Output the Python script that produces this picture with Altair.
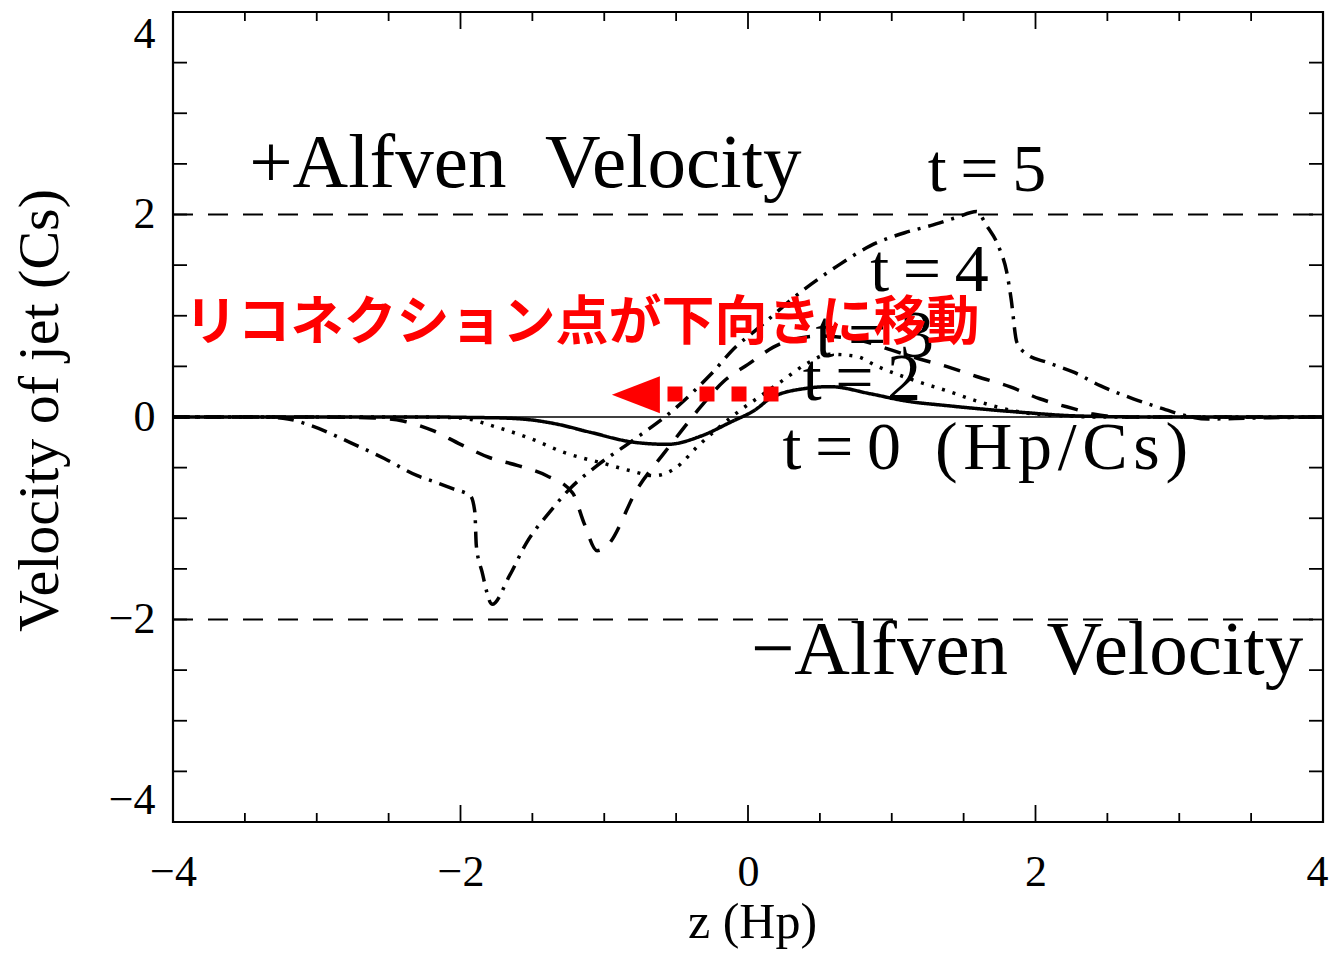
import altair as alt
import pandas as pd

# ---------------- data ----------------
z_t0 = [-4, -3, -2.2, -1.9, -1.7, -1.5, -1.33, -1.1, -0.79, -0.56, -0.33, -0.12, 0.06, 0.15, 0.39, 0.57, 0.85, 1.09, 1.4, 1.87, 2.3, 2.8, 4]
v_t0 = [0, 0, 0, -0.005, -0.01, -0.03, -0.07, -0.15, -0.25, -0.27, -0.19, -0.05, 0.08, 0.18, 0.28, 0.30, 0.23, 0.16, 0.11, 0.05, 0.01, 0, 0]

z_t2 = [-4, -3, -2.3, -2.0, -1.75, -1.5, -1.28, -1.0, -0.82, -0.65, -0.5, -0.35, -0.2, -0.07, 0.1, 0.25, 0.4, 0.57, 0.75, 0.9, 1.18, 1.38, 1.61, 1.85, 2.2, 2.5, 4]
v_t2 = [0, 0, 0, -0.01, -0.1, -0.22, -0.35, -0.46, -0.53, -0.58, -0.5, -0.29, -0.1, 0.05, 0.22, 0.37, 0.52, 0.62, 0.6, 0.5, 0.35, 0.26, 0.15, 0.06, 0.01, 0, 0]

z_t3 = [-4, -3, -2.6, -2.4, -2.2, -2.0, -1.8, -1.6, -1.4, -1.22, -1.14, -1.05, -0.98, -0.77, -0.58, -0.47, -0.33, -0.17, 0.0, 0.22, 0.5, 0.8, 1.0, 1.2, 1.38, 1.59, 1.82, 2.03, 2.27, 2.4, 2.6, 4]
v_t3 = [0, 0, -0.01, -0.04, -0.13, -0.27, -0.4, -0.48, -0.58, -0.75, -1.05, -1.32, -1.27, -0.71, -0.35, -0.15, 0.1, 0.35, 0.52, 0.72, 0.8, 0.75, 0.66, 0.57, 0.5, 0.4, 0.3, 0.18, 0.08, 0.03, 0, 0]

z_t5 = [-4, -3.4, -3.2, -3.05, -2.77, -2.53, -2.3, -2.18, -2.05, -1.93, -1.9, -1.89, -1.85, -1.78, -1.66, -1.54, -1.38, -1.24, -1.05, -0.82, -0.51, -0.26, -0.08, 0.04, 0.39, 0.62, 0.85, 1.09, 1.27, 1.45, 1.59, 1.66, 1.75, 1.8, 1.83, 1.87, 1.94, 2.08, 2.27, 2.45, 2.68, 2.89, 3.0, 3.2, 3.5, 4]
v_t5 = [0, 0, -0.02, -0.08, -0.25, -0.41, -0.58, -0.64, -0.71, -0.78, -0.94, -1.27, -1.53, -1.85, -1.57, -1.24, -0.94, -0.71, -0.48, -0.25, 0.08, 0.42, 0.7, 0.84, 1.26, 1.49, 1.69, 1.82, 1.89, 1.97, 2.03, 1.89, 1.66, 1.43, 1.17, 0.74, 0.62, 0.54, 0.44, 0.31, 0.18, 0.08, 0.03, -0.02, -0.01, 0]

alfven_levels = [2, -2]

x_ticks_minor = [-3.5, -3, -2.5, -1.5, -1, -0.5, 0.5, 1, 1.5, 2.5, 3, 3.5]
x_ticks_major = [-2, 0, 2]
y_ticks = [-3.5, -3, -2.5, -2, -1.5, -1, -0.5, 0, 0.5, 1, 1.5, 2, 2.5, 3, 3.5]

EN = "\u2002"
TH = "\u2009"
HA = "\u200a"
label_text = ["+Alfven" + EN + "Velocity", "\u2212Alfven" + EN + "Velocity",
              "t" + TH + "=" + TH + "5", "t" + TH + "=" + TH + "4", "t" + TH + "=" + TH + "3",
              "t" + TH + "=" + TH + "2",
              "t" + TH + "=" + TH + "0" + EN + HA.join("(Hp/Cs)")]
label_z = [-3.47, 0.02, 1.25, 0.85, 0.47, 0.38, 0.24]
label_v = [2.5, -2.31, 2.43, 1.44, 0.79, 0.37, -0.32]
label_size = [77, 77, 68, 68, 68, 68, 68]

red_text = ["リコネクション点が下向きに移動"]
red_text_z = [-3.92]
red_text_v = [0.92]

arrow_head_z = [-0.78]
arrow_head_v = [0.22]
arrow_tail_z = [-0.56, 0.22]
arrow_tail_v = [0.227, 0.227]

# ---------------- chart ----------------
XS = alt.Scale(domain=[-4, 4], nice=False, zero=False)
YS = alt.Scale(domain=[-4, 4], nice=False, zero=False)
SERIF = "Liberation Serif"
W, H = 1150, 810

x_axis = alt.Axis(values=[-4, -2, 0, 2, 4], format="d", ticks=False, domain=False, grid=False,
                  labelFont=SERIF, labelFontSize=44, labelColor="black", labelPadding=28,
                  labelFlush=False,
                  labelOffset={"condition": {"test": "datum.value == 4", "value": -6}, "value": 0},
                  title="z (Hp)", titleFont=SERIF, titleFontSize=50, titleFontWeight="normal",
                  titleColor="black", titleX=579, titleY=100, titleBaseline="middle")
y_axis = alt.Axis(values=[-4, -2, 0, 2, 4], format="d", ticks=False, domain=False, grid=False,
                  labelFont=SERIF, labelFontSize=44, labelColor="black", labelPadding=18,
                  labelFlush=True, labelFlushOffset=0,
                  title="Velocity of jet (Cs)", titleFont=SERIF, titleFontSize=58,
                  titleFontWeight="normal", titleColor="black",
                  titleX=-133, titleY=398, titleBaseline="middle", titleAngle=-90)


def curve(z, v, dash, width=3.5):
    df = pd.DataFrame({"z": z, "v": v})
    return alt.Chart(df).mark_line(color="black", strokeWidth=width, strokeDash=dash,
                                   interpolate="monotone", strokeCap="butt").encode(
        x=alt.X("z:Q", scale=XS, axis=x_axis),
        y=alt.Y("v:Q", scale=YS, axis=y_axis),
    )


zero_line = alt.Chart(pd.DataFrame({"v": [0]})).mark_rule(color="black", strokeWidth=1.3).encode(
    y=alt.Y("v:Q", scale=YS, axis=y_axis), x=alt.value(0), x2=alt.value(W))

alfven = alt.Chart(pd.DataFrame({"v": alfven_levels})).mark_rule(
    color="black", strokeWidth=1.8, strokeDash=[20, 15]).encode(
    y=alt.Y("v:Q", scale=YS), x=alt.value(0), x2=alt.value(W))

tick_style = dict(color="black", strokeWidth=1.8)
xminor = pd.DataFrame({"z": x_ticks_minor})
xmajor = pd.DataFrame({"z": x_ticks_major})
yt = pd.DataFrame({"v": y_ticks})
ticks = [
    alt.Chart(xminor).mark_rule(**tick_style).encode(x=alt.X("z:Q", scale=XS), y=alt.value(H), y2=alt.value(H - 9)),
    alt.Chart(xminor).mark_rule(**tick_style).encode(x=alt.X("z:Q", scale=XS), y=alt.value(0), y2=alt.value(9)),
    alt.Chart(xmajor).mark_rule(**tick_style).encode(x=alt.X("z:Q", scale=XS), y=alt.value(H), y2=alt.value(H - 17)),
    alt.Chart(xmajor).mark_rule(**tick_style).encode(x=alt.X("z:Q", scale=XS), y=alt.value(0), y2=alt.value(17)),
    alt.Chart(yt).mark_rule(**tick_style).encode(y=alt.Y("v:Q", scale=YS), x=alt.value(0), x2=alt.value(14)),
    alt.Chart(yt).mark_rule(**tick_style).encode(y=alt.Y("v:Q", scale=YS), x=alt.value(W - 14), x2=alt.value(W)),
]

curves = [
    curve(z_t0, v_t0, [1, 0], 3.5),
    curve(z_t2, v_t2, [3, 8], 3.5),
    curve(z_t3, v_t3, [17, 14], 3.5),
    curve(z_t5, v_t5, [16, 8, 3, 8], 3.5),
]

labels_df = pd.DataFrame({"txt": label_text, "z": label_z, "v": label_v, "s": label_size})
labels = alt.Chart(labels_df).mark_text(font=SERIF, align="left", baseline="middle",
                                        color="black").encode(
    x=alt.X("z:Q", scale=XS), y=alt.Y("v:Q", scale=YS), text="txt:N",
    size=alt.Size("s:Q", scale=None, legend=None))

arrow_tail = alt.Chart(pd.DataFrame({"z": arrow_tail_z, "v": arrow_tail_v})).mark_line(
    color="#ff0000", strokeWidth=15, strokeDash=[15, 17], strokeCap="butt").encode(
    x=alt.X("z:Q", scale=XS), y=alt.Y("v:Q", scale=YS))

arrow_head = alt.Chart(pd.DataFrame({"z": arrow_head_z, "v": arrow_head_v})).mark_point(
    shape="M-1,0L1,-0.77L1,0.77Z", filled=True, color="#ff0000", opacity=1, size=2304,
    strokeWidth=0).encode(x=alt.X("z:Q", scale=XS), y=alt.Y("v:Q", scale=YS))

red = alt.Chart(pd.DataFrame({"txt": red_text, "z": red_text_z, "v": red_text_v})).mark_text(
    font="Noto Sans CJK JP", fontWeight="bold", fontSize=53, color="#ff0000",
    align="left", baseline="middle").encode(
    x=alt.X("z:Q", scale=XS), y=alt.Y("v:Q", scale=YS), text="txt:N")

chart = alt.layer(zero_line, alfven, *ticks, *curves, labels, arrow_tail, arrow_head, red).properties(
    width=W, height=H,
    autosize=alt.AutoSizeParams(type="none"),
    padding={"left": 165, "top": 4, "right": 9, "bottom": 129},
).configure(background="white", view=alt.ViewConfig(stroke="black", strokeWidth=2.2))

chart.save("out.html", embed_options={"renderer": "svg", "actions": False})
